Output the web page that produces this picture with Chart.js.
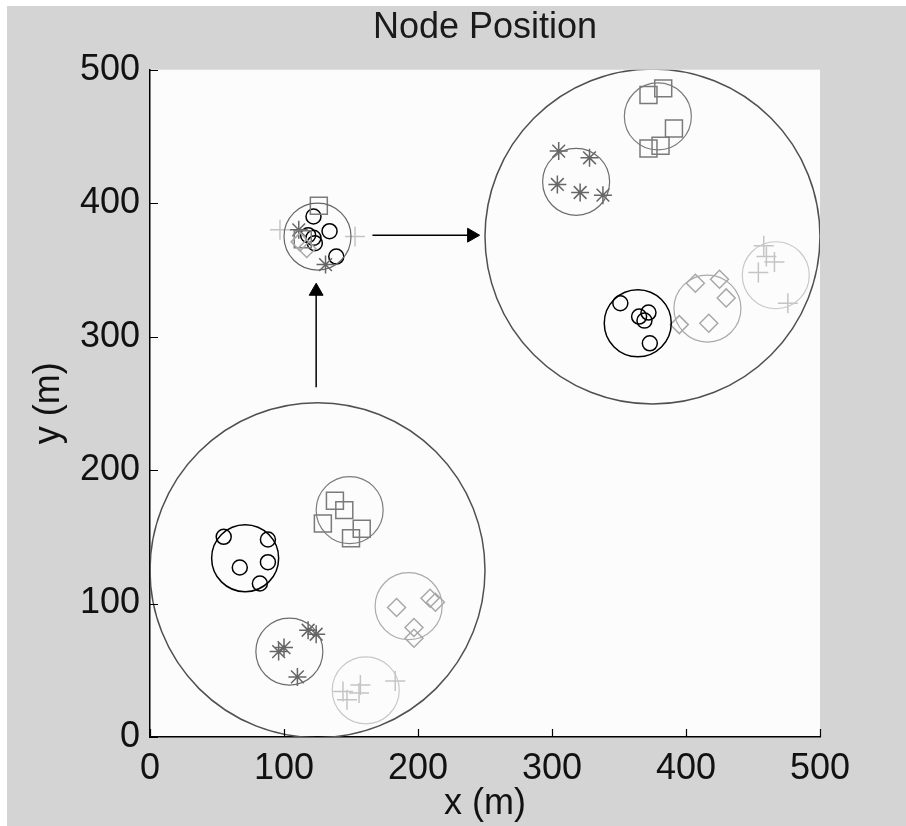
<!DOCTYPE html>
<html>
<head>
<meta charset="utf-8">
<title>Node Position</title>
<script src="https://cdn.jsdelivr.net/npm/chart.js@4.4.1/dist/chart.umd.min.js"></script>
<style>
  html, body { margin: 0; padding: 0; background: #fff; }
  #wrap { width: 906px; height: 826px; }
</style>
</head>
<body>
<div id="wrap"><canvas id="chart" width="906" height="826"></canvas></div>
<script>
// axis ticks
var axisTicks = [0, 100, 200, 300, 400, 500];

// ring radii (m)
var outerRingR = 125;
var subRingR = 25;

// large field circles
var outerRingX = [125, 375];
var outerRingY = [125, 375];

// group circles, one per marker type
var blackRingX = [71, 364];
var blackRingY = [134, 310];
var squareRingX = [149, 379];
var squareRingY = [170, 465];
var starRingX = [104, 318];
var starRingY = [64, 416];
var diamondRingX = [193, 416];
var diamondRingY = [98, 321];
var plusRingX = [161, 467];
var plusRingY = [35, 346];
// small collapsed cluster
var clusterRingX = [125];
var clusterRingY = [375];

// nodes
var circleX = [55, 88, 67, 88, 82, 351, 365, 372, 369, 373, 122, 118, 122, 123, 134, 139];
var circleY = [150, 148, 127, 131, 115, 325, 315, 318, 312, 295, 390, 376, 374, 370, 379, 360];
var squareX = [138, 145, 129, 158, 150, 372, 383, 391, 372, 381, 126, 114];
var squareY = [177, 170, 160, 156, 149, 481, 486, 456, 441, 443, 398, 373];
var starX = [96, 100, 118, 124, 110, 305, 328, 304, 321, 338, 111, 131];
var starY = [64, 67, 80, 77, 45, 439, 434, 414, 408, 406, 380, 354];
var diamondX = [184, 209, 213, 197, 197, 407, 425, 430, 417, 395, 117, 112];
var diamondY = [97, 104, 101, 82, 74, 340, 343, 329, 310, 309, 366, 371];
var plusX = [144, 147, 157, 156, 183, 458, 460, 466, 454, 476, 97, 153];
var plusY = [34, 28, 39, 33, 42, 368, 360, 356, 348, 325, 380, 375];

// arrows
var arrowUpX = [124, 124];
var arrowUpY = [262, 334];
var arrowRightX = [166, 240];
var arrowRightY = [376, 376];
var arrowHeadX = [124, 240];
var arrowHeadY = [334, 376];

function pts(xs, ys, r) {
  return xs.map(function(x, i) {
    var p = { x: x, y: ys[i] };
    if (r !== undefined) p.r = r;
    return p;
  });
}

// ring radius in pixels, from the x scale
function ringRadius(ctx) {
  var s = ctx.chart.scales.x;
  if (!s || !ctx.raw) return 0;
  return Math.abs(s.getPixelForValue(ctx.raw.r) - s.getPixelForValue(0));
}

function ring(xs, ys, r, color, width) {
  return {
    data: pts(xs, ys, r),
    pointStyle: 'circle',
    pointRadius: ringRadius,
    pointBackgroundColor: 'rgba(0,0,0,0)',
    pointBorderColor: color,
    pointBorderWidth: width || 1.2
  };
}

function nodes(xs, ys, style, radius, color) {
  return {
    data: pts(xs, ys),
    pointStyle: style,
    pointRadius: radius,
    pointBackgroundColor: 'rgba(0,0,0,0)',
    pointBorderColor: color,
    pointBorderWidth: 1.5
  };
}

var bgPlugin = {
  id: 'bg',
  beforeDraw: function(chart) {
    var c = chart.ctx, a = chart.chartArea;
    c.save();
    c.fillStyle = '#ffffff';
    c.fillRect(0, 0, chart.width, chart.height);
    c.fillStyle = '#d4d4d4';
    c.fillRect(7, 6, chart.width - 7, chart.height - 6);
    c.fillStyle = '#fcfcfc';
    c.fillRect(a.left, a.top, a.right - a.left, a.bottom - a.top);
    c.restore();
  }
};

// inward tick marks, matlab style
var tickPlugin = {
  id: 'inTicks',
  afterDraw: function(chart) {
    var c = chart.ctx, a = chart.chartArea;
    var xs = chart.scales.x, ys = chart.scales.y;
    c.save();
    c.strokeStyle = '#000';
    c.lineWidth = 1.2;
    c.beginPath();
    axisTicks.forEach(function(v) {
      var px = Math.round(xs.getPixelForValue(v)) + 0.5;
      c.moveTo(px, a.bottom);
      c.lineTo(px, a.bottom - 8);
      var py = Math.round(ys.getPixelForValue(v)) + 0.5;
      c.moveTo(a.left, py);
      c.lineTo(a.left + 8, py);
    });
    c.stroke();
    c.restore();
  }
};

var fontFamily = '"Liberation Sans", Arial, Helvetica, sans-serif';

function axis(title, fit) {
  return {
    type: 'linear',
    min: 0,
    max: 500,
    afterBuildTicks: function(s) {
      s.ticks = axisTicks.map(function(v) { return { value: v }; });
    },
    ticks: {
      color: '#111',
      font: { family: fontFamily, size: 36 },
      padding: 10
    },
    grid: {
      display: true,
      drawOnChartArea: false,
      drawTicks: false
    },
    border: { display: true, color: '#000', width: 1.5 },
    title: {
      display: true,
      text: title,
      color: '#111',
      font: { family: fontFamily, size: 36 },
      padding: { top: title === 'y (m)' ? 27 : 0, bottom: 0 }
    },
    afterFit: fit
  };
}

new Chart(document.getElementById('chart'), {
  type: 'scatter',
  data: {
    datasets: [
      ring(outerRingX, outerRingY, outerRingR, '#505050', 1.5),
      ring(blackRingX, blackRingY, subRingR, '#000000', 1.5),
      ring(squareRingX, squareRingY, subRingR, '#7c7c7c'),
      ring(starRingX, starRingY, subRingR, '#6c6c6c'),
      ring(diamondRingX, diamondRingY, subRingR, '#aaaaaa'),
      ring(plusRingX, plusRingY, subRingR, '#c8c8c8'),
      ring(clusterRingX, clusterRingY, subRingR, '#666666'),
      nodes(plusX, plusY, 'cross', 10, '#c4c4c4'),
      nodes(diamondX, diamondY, 'rectRot', 9, '#a8a8a8'),
      nodes(squareX, squareY, 'rect', 12, '#7a7a7a'),
      nodes(starX, starY, 'star', 9, '#666666'),
      nodes(circleX, circleY, 'circle', 7.5, '#000000'),
      {
        data: pts(arrowUpX, arrowUpY),
        showLine: true,
        borderColor: '#000',
        borderWidth: 1.5,
        pointRadius: 0
      },
      {
        data: pts(arrowRightX, arrowRightY),
        showLine: true,
        borderColor: '#000',
        borderWidth: 1.5,
        pointRadius: 0
      },
      {
        data: pts(arrowHeadX, arrowHeadY),
        pointStyle: 'triangle',
        pointRadius: 8,
        pointRotation: [0, 90],
        pointBackgroundColor: '#000',
        pointBorderColor: '#000',
        pointBorderWidth: 1
      }
    ]
  },
  options: {
    responsive: false,
    animation: false,
    devicePixelRatio: 1,
    events: [],
    layout: { padding: { left: 0, right: 86, top: 0, bottom: 0 } },
    plugins: {
      legend: { display: false },
      tooltip: { enabled: false },
      title: {
        display: true,
        text: 'Node Position',
        color: '#1a1a1a',
        fullSize: false,
        font: { family: fontFamily, size: 36, weight: 'normal' },
        padding: { top: 6, bottom: 20.5 }
      }
    },
    scales: {
      x: axis('x (m)', function(s) { s.height = 89; }),
      y: axis('y (m)', function(s) { s.width = 150; })
    }
  },
  plugins: [bgPlugin, tickPlugin]
});
</script>
</body>
</html>
